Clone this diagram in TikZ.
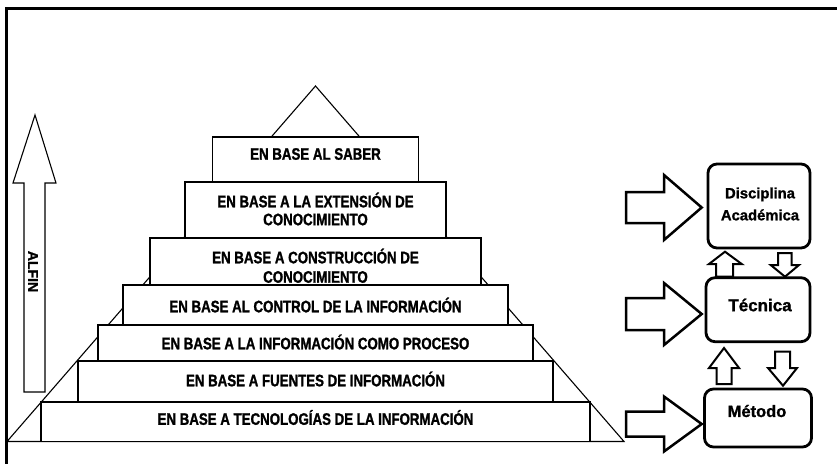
\documentclass[tikz,border=0pt]{standalone}
\usepackage{fontspec}
\setmainfont{Liberation Sans}[BoldFeatures={FakeBold=1.2}]
\newfontfamily\condfont{Liberation Sans}[FakeStretch=0.8, BoldFeatures={FakeBold=1.3}]
\begin{document}
\begin{tikzpicture}[x=1pt,y=-1pt,
  bar/.style={draw=black, line width=1.1pt, fill=white, inner sep=0pt, outer sep=0pt},
  bartext/.style={font=\condfont\bfseries\fontsize{16.6}{18}\selectfont, inner sep=0pt, align=center},
  rbox/.style={draw=black, line width=2.8pt, rounded corners=9pt, fill=white, inner sep=0pt},
  rtext/.style={font=\bfseries, inner sep=0pt, align=center},
  bigarrow/.style={draw=black, line width=2.5pt, line join=miter, fill=white},
  smallarrow/.style={draw=black, line width=2pt, line join=miter, fill=white}
]
\useasboundingbox (0,0) rectangle (837,464);
% outer frame (top and left edges)
\draw[line width=3pt] (837,8) -- (6,8) -- (6,464);

% pyramid triangle
\coordinate (pl) at (7,441.5);
\coordinate (pa) at (315.5,86);
\coordinate (pr) at (624,441.5);
\draw[line width=1.1pt] (pl) -- (pa) -- (pr) -- cycle;

% bars
\node[bar, minimum width=205.6pt, minimum height=44.7pt] (b1) at (315.5,159.35) {};
\node[bar, minimum width=261pt, minimum height=56pt] (b2) at (315.5,210) {};
\node[bar, minimum width=331pt, minimum height=47pt] (b3) at (315.5,261.5) {};
\node[bar, minimum width=385pt, minimum height=40pt] (b4) at (315.5,305) {};
\node[bar, minimum width=435pt, minimum height=36pt] (b5) at (315.5,343) {};
\node[bar, minimum width=475pt, minimum height=41pt] (b6) at (315.5,381.5) {};
\node[bar, minimum width=549pt, minimum height=39.5pt] (b7) at (315.5,421.75) {};
\draw[line width=1.8pt] (b7.south west) -- (b7.south east);

\node[bartext] (t1) at (315.5,154) {EN BASE AL SABER};
\node[bartext] (t2a) at (315.5,200) {EN BASE A LA EXTENSIÓN DE};
\node[bartext] (t2b) at (315.5,219.5) {CONOCIMIENTO};
\node[bartext] (t3a) at (315.5,256) {EN BASE A CONSTRUCCIÓN DE};
\node[bartext] (t3b) at (315.5,277) {CONOCIMIENTO};
\node[bartext] (t4) at (315.5,305) {EN BASE AL CONTROL DE LA INFORMACIÓN};
\node[bartext] (t5) at (315.5,342) {EN BASE A LA INFORMACIÓN COMO PROCESO};
\node[bartext] (t6) at (315.5,379) {EN BASE A FUENTES DE INFORMACIÓN};
\node[bartext] (t7) at (315.5,417.5) {EN BASE A TECNOLOGÍAS DE LA INFORMACIÓN};

% ALFIN arrow
\draw[line width=1.1pt, fill=white] (24,392) -- (24,183) -- (13,183) -- (35,115) -- (56,183) -- (45,183) -- (45,392) -- cycle;
\node[font=\bfseries\fontsize{14}{16}\selectfont, rotate=-90, inner sep=0pt] (alfin) at (33,271.5) {ALFIN};

% right boxes
\node[rbox, minimum width=102pt, minimum height=84pt] (disc) at (759,206) {};
\node[rbox, minimum width=104pt, minimum height=64pt] (tec) at (758,309.7) {};
\node[rbox, minimum width=107pt, minimum height=58pt] (met) at (758,418) {};
\node[rtext, font=\bfseries\fontsize{14.8}{22}\selectfont] (disct) at (760,204) {Disciplina\\Académica};
\node[rtext, font=\bfseries\fontsize{17}{20}\selectfont] (tect) at (760,305) {Técnica};
\node[rtext, font=\bfseries\fontsize{16.5}{20}\selectfont] (mett) at (757,411) {Método};

% big right arrows
\draw[bigarrow] (626,192) -- (664,192) -- (664,175) -- (701.7,207.5) -- (664,240) -- (664,223) -- (626,223) -- cycle;
\draw[bigarrow] (626,298) -- (664,298) -- (664,283) -- (701.7,314) -- (664,345) -- (664,330) -- (626,330) -- cycle;
\draw[bigarrow] (626,411.5) -- (664,411.5) -- (664,396.5) -- (701.7,424) -- (664,451.5) -- (664,436.5) -- (626,436.5) -- cycle;

% small vertical arrows
\draw[smallarrow] (716,276.7) -- (716,264) -- (709,264) -- (725,251.7) -- (741.7,264) -- (733,264) -- (733,276.7) -- cycle;
\draw[smallarrow] (778,253) -- (778,265) -- (770.7,265) -- (785,276.7) -- (799,265) -- (791.7,265) -- (791.7,253) -- cycle;
\draw[smallarrow] (716.7,384) -- (716.7,368) -- (709,368) -- (724,348) -- (739,368) -- (731.7,368) -- (731.7,384) -- cycle;
\draw[smallarrow] (775,351.7) -- (775,368) -- (768,368) -- (783,385.7) -- (797,368) -- (790,368) -- (790,351.7) -- cycle;
\end{tikzpicture}
\end{document}
